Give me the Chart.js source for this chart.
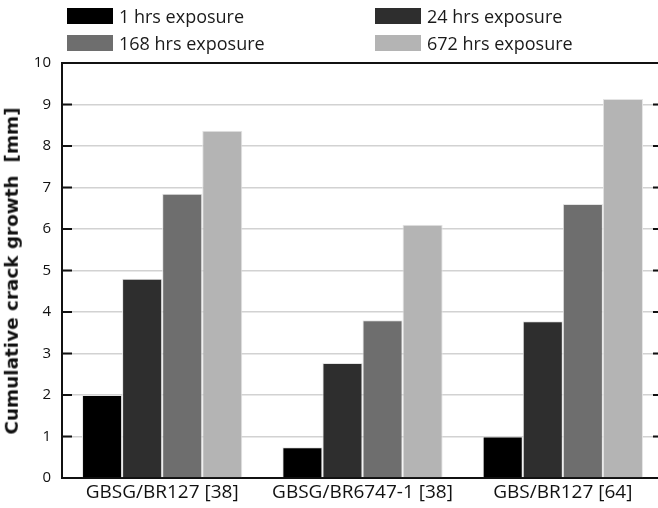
<!DOCTYPE html>
<html>
<head>
<meta charset="utf-8">
<script src="https://cdn.jsdelivr.net/npm/chart.js@4/dist/chart.umd.min.js"></script>
<style>
  html, body { margin: 0; padding: 0; background: #fff; overflow: hidden; width: 658px; height: 508px; }
  #wrap { position: relative; width: 665px; height: 508px; }
  #wrap canvas { position: absolute; left: 0; top: 0; }
  .legend-item { position: absolute; height: 20px; display: flex; align-items: center;
                 font: 18px "Open Sans", sans-serif; color: #1a1a1a; white-space: nowrap; }
  .legend-box { width: 46px; height: 16px; margin-right: 6px; flex: none; }
  #ytitle { position: absolute; left: 12px; top: 270.5px; transform: translate(-50%, -50%) rotate(-90deg);
            font: bold 18.4px "DejaVu Sans", sans-serif; line-height: 1; white-space: pre; color: #111; }
</style>
</head>
<body>
<div id="wrap">
  <canvas id="chart" width="665" height="508"></canvas>
  <div id="legend"></div>
  <div id="ytitle">Cumulative crack growth  [mm]</div>
</div>
<script>
// Material / reference groups along the x axis
const categories = ['GBSG/BR127 [38]', 'GBSG/BR6747-1 [38]', 'GBS/BR127 [64]'];

// Exposure series (cumulative crack growth, mm)
const seriesNames = ['1 hrs exposure', '24 hrs exposure', '168 hrs exposure', '672 hrs exposure'];
const exposure1h   = [2.0, 0.74, 1.0];
const exposure24h  = [4.8, 2.77, 3.78];
const exposure168h = [6.85, 3.8, 6.6];
const exposure672h = [8.37, 6.1, 9.13];

// Y axis range and step
const yMin = 0;
const yMax = 10;
const yStep = 1;

const seriesValues = [exposure1h, exposure24h, exposure168h, exposure672h];
const seriesColors = ['#000000', '#2e2e2e', '#6e6e6e', '#b4b4b4'];

const datasets = seriesNames.map((name, i) => ({
  label: name,
  data: seriesValues[i],
  backgroundColor: seriesColors[i],
  borderColor: '#e4e4e4',
  borderWidth: 1,
  categoryPercentage: 0.8,
  barPercentage: 1.0
}));

// Inward tick marks on both sides of the plot frame
const frameTicks = {
  id: 'frameTicks',
  afterDraw(chart) {
    const { ctx, chartArea: { left, right, top, bottom }, scales: { y } } = chart;
    ctx.save();
    ctx.strokeStyle = '#111';
    ctx.lineWidth = 2;
    y.ticks.forEach(t => {
      const py = y.getPixelForValue(t.value);
      ctx.beginPath();
      ctx.moveTo(left, py); ctx.lineTo(left + 10, py);
      ctx.moveTo(right - 10, py); ctx.lineTo(right, py);
      ctx.stroke();
    });
    ctx.beginPath();
    ctx.moveTo(right, top); ctx.lineTo(right, bottom);
    ctx.stroke();
    ctx.restore();
  }
};

const chart = new Chart(document.getElementById('chart'), {
  type: 'bar',
  data: { labels: categories, datasets },
  options: {
    responsive: false,
    animation: false,
    devicePixelRatio: 1,
    layout: { padding: { top: 63, right: 2, bottom: 0, left: 0 } },
    plugins: { legend: { display: false }, tooltip: { enabled: false } },
    scales: {
      x: {
        grid: { display: false, drawTicks: false },
        border: { display: true, color: '#111', width: 2 },
        ticks: {
          autoSkip: false, maxRotation: 0, padding: 3, color: '#111',
          font: { family: '"Open Sans", sans-serif', size: 19 }
        },
        afterFit: s => { s.height = 30; }
      },
      y: {
        min: yMin, max: yMax,
        grid: {
          drawTicks: false,
          color: c => c.tick.value === yMax ? '#111' : (c.tick.value === yMin ? 'rgba(0,0,0,0)' : '#d2d2d2'),
          lineWidth: c => c.tick.value === yMax ? 2 : 1.5
        },
        border: { display: true, color: '#111', width: 2 },
        ticks: {
          stepSize: yStep, padding: 11, color: '#111',
          font: { family: '"Open Sans", sans-serif', size: 15 }
        },
        afterFit: s => { s.width = 62; }
      }
    }
  },
  plugins: [frameTicks]
});

// Two-column legend built from the chart's datasets
const legendEl = document.getElementById('legend');
const colLeft = [67, 375];
const rowTop = [6, 33];
chart.data.datasets.forEach((ds, i) => {
  const item = document.createElement('div');
  item.className = 'legend-item';
  item.style.left = colLeft[i % 2] + 'px';
  item.style.top = rowTop[Math.floor(i / 2)] + 'px';
  const box = document.createElement('span');
  box.className = 'legend-box';
  box.style.background = ds.backgroundColor;
  const txt = document.createElement('span');
  txt.textContent = ds.label;
  item.appendChild(box);
  item.appendChild(txt);
  legendEl.appendChild(item);
});
</script>
</body>
</html>
